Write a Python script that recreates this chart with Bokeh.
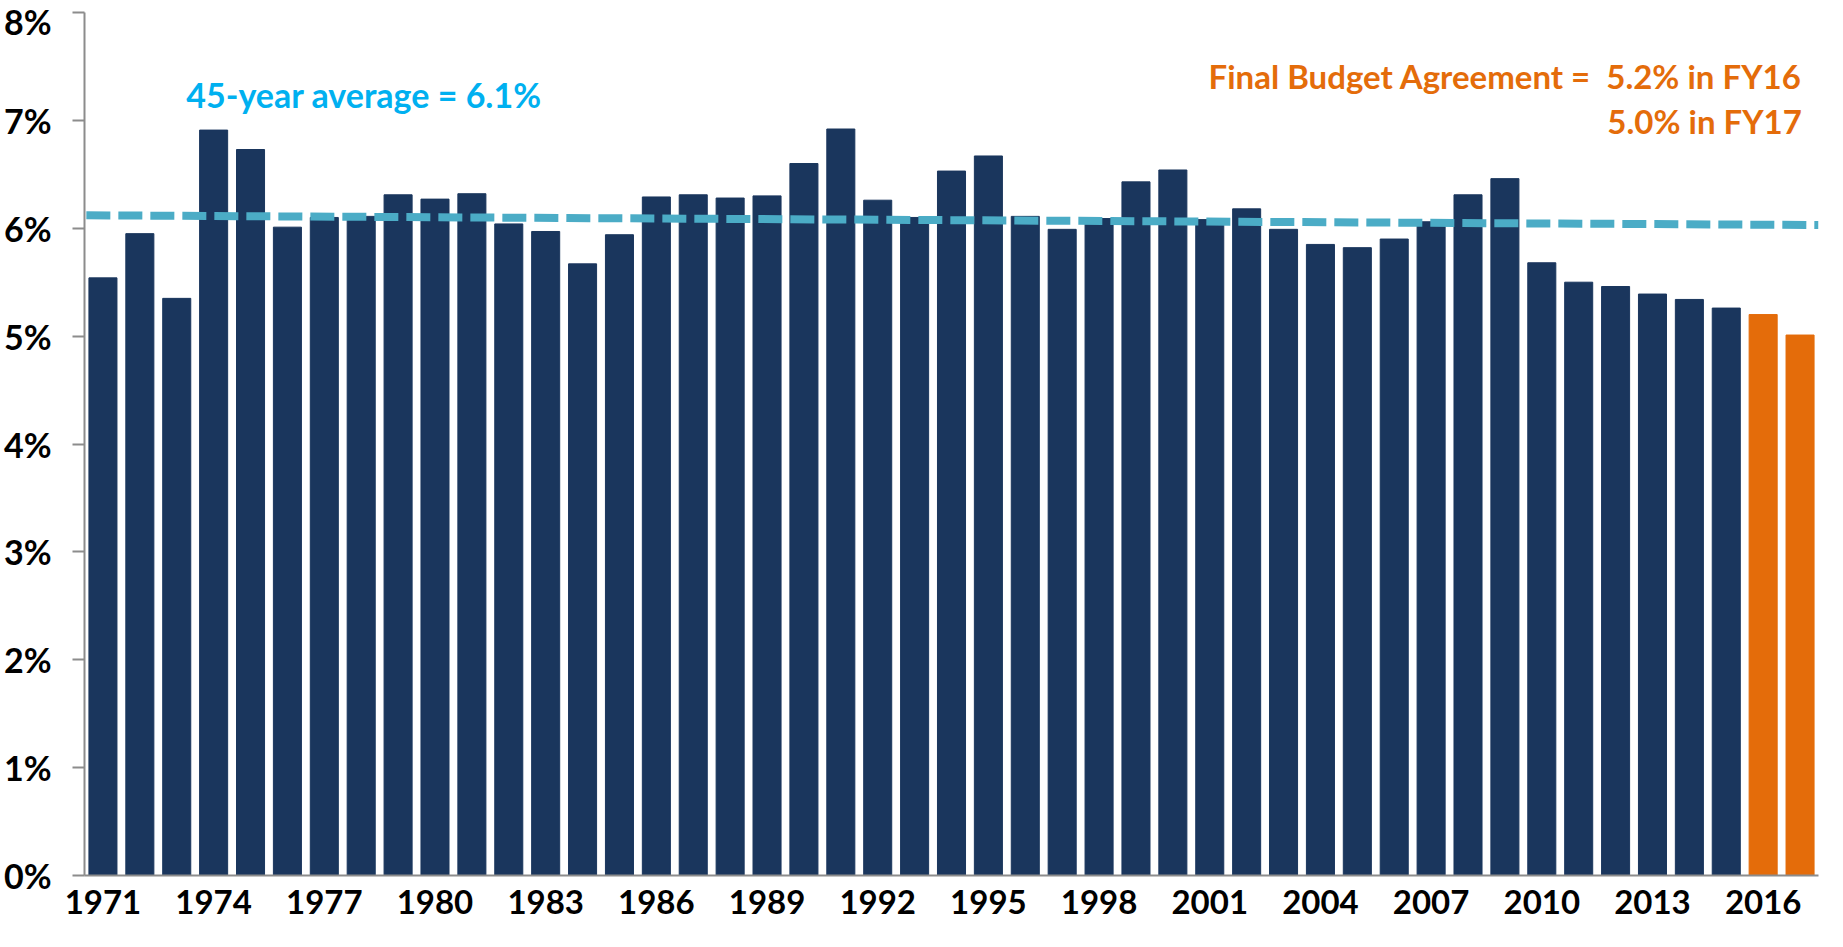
from bokeh.plotting import figure
from bokeh.models import Range1d, FixedTicker, PrintfTickFormatter, Label, ColumnDataSource
from bokeh.embed import file_html
from bokeh.resources import INLINE

years = list(range(1971, 2018))
values = [5.54, 5.95, 5.35, 6.91, 6.73, 6.01, 6.10, 6.11, 6.31, 6.27,
          6.32, 6.04, 5.97, 5.67, 5.94, 6.29, 6.31, 6.28, 6.30, 6.60,
          6.92, 6.26, 6.10, 6.53, 6.67, 6.11, 5.99, 6.09, 6.43, 6.54,
          6.08, 6.18, 5.99, 5.85, 5.82, 5.90, 6.06, 6.31, 6.46, 5.68,
          5.50, 5.46, 5.39, 5.34, 5.26, 5.20, 5.01]
budget_years = [2016, 2017]
tick_years = [1971, 1974, 1977, 1980, 1983, 1986, 1989, 1992, 1995, 1998,
              2001, 2004, 2007, 2010, 2013, 2016]
y_ticks = [0, 1, 2, 3, 4, 5, 6, 7, 8]
avg_x = [1970.55, 2017.5]
avg_y = [6.12, 6.03]

NAVY = "#1A365D"
ORANGE = "#E46C0A"
colors = [ORANGE if y in budget_years else NAVY for y in years]

src = ColumnDataSource(dict(x=years, top=values, color=colors))

p = figure(width=1827, height=930, output_backend="svg", toolbar_location=None,
           x_range=Range1d(1970.5, 2017.5), y_range=Range1d(0, 8),
           min_border_top=12, min_border_left=82, min_border_right=9,
           min_border_bottom=55,
           background_fill_color="white", border_fill_color="white")
p.outline_line_color = None
p.xgrid.grid_line_color = None
p.ygrid.grid_line_color = None

p.vbar(x="x", top="top", bottom=0, width=0.76, color="color", source=src,
       line_color="color", line_width=1)

p.line(avg_x, avg_y, line_color="#4BACC6", line_width=8, line_dash="24 8")

FONT = "Lato"
# x axis
xa = p.xaxis[0]
xa.ticker = FixedTicker(ticks=tick_years)
xa.axis_line_color = "#8C8C8C"
xa.axis_line_width = 2
xa.major_tick_line_color = None
xa.minor_tick_line_color = None
xa.major_tick_out = 0
xa.major_tick_in = 0
xa.major_label_standoff = 14
xa.major_label_text_font = FONT
xa.major_label_text_font_style = "bold"
xa.major_label_text_font_size = "33px"
xa.major_label_text_color = "black"

# y axis
ya = p.yaxis[0]
ya.ticker = FixedTicker(ticks=y_ticks)
ya.formatter = PrintfTickFormatter(format="%d%%")
ya.axis_line_color = "#8C8C8C"
ya.axis_line_width = 2
ya.major_tick_line_color = "#8C8C8C"
ya.major_tick_line_width = 2
ya.major_tick_out = 12
ya.major_tick_in = 0
ya.minor_tick_line_color = None
ya.major_label_standoff = 21
ya.major_label_text_font = FONT
ya.major_label_text_font_style = "bold"
ya.major_label_text_font_size = "34px"
ya.major_label_text_color = "black"

p.add_layout(Label(x=1973.26, y=7.24, text="45-year average = 6.1%",
                   text_font=FONT, text_font_style="bold", text_font_size="34px",
                   text_color="#00B0F0", text_baseline="alphabetic", text_align="left"))
p.add_layout(Label(x=2017.05, y=7.41, text="Final Budget Agreement =\u00a0 5.2% in FY16",
                   text_font=FONT, text_font_style="bold", text_font_size="33px",
                   text_color=ORANGE, text_baseline="alphabetic", text_align="right"))
p.add_layout(Label(x=2017.05, y=6.995, text="5.0% in FY17",
                   text_font=FONT, text_font_style="bold", text_font_size="33px",
                   text_color=ORANGE, text_baseline="alphabetic", text_align="right"))

open("out.html", "w").write(file_html(p, INLINE))
